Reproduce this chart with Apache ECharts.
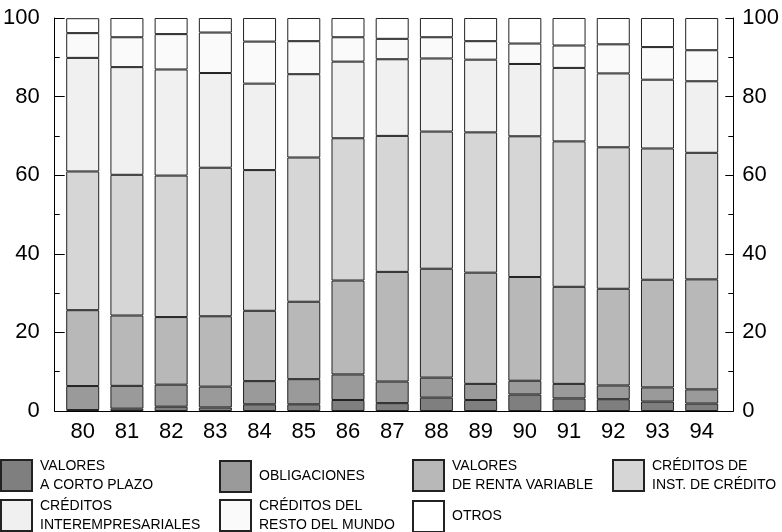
<!DOCTYPE html>
<html>
<head>
<meta charset="utf-8">
<script src="https://cdn.jsdelivr.net/npm/echarts@6/dist/echarts.min.js"></script>
<style>html,body{margin:0;padding:0;background:#fff;}#c{width:782px;height:532px;}</style>
</head>
<body>
<div id="c"></div>
<script>
var categories = ['80','81','82','83','84','85','86','87','88','89','90','91','92','93','94'];
var yTicks = [0, 20, 40, 60, 80, 100];
var valoresCortoPlazo = [0.25, 0.6, 1.1, 0.9, 1.7, 1.7, 2.8, 2.0, 3.4, 2.8, 4.2, 3.2, 3.0, 2.4, 1.9];
var obligaciones = [6.1, 5.8, 5.6, 5.3, 5.9, 6.4, 6.5, 5.5, 5.1, 4.1, 3.5, 3.7, 3.5, 3.6, 3.6];
var valoresRentaVariable = [19.3, 17.9, 17.2, 17.9, 17.9, 19.7, 23.9, 27.9, 27.7, 28.3, 26.4, 24.7, 24.6, 27.4, 28.0];
var creditosInstCredito = [35.3, 35.8, 36.0, 37.8, 35.8, 36.7, 36.2, 34.6, 34.9, 35.7, 35.8, 37.0, 36.0, 33.4, 32.2];
var creditosInterempresariales = [28.9, 27.4, 27.0, 24.1, 22.0, 21.2, 19.5, 19.5, 18.6, 18.5, 18.4, 18.7, 18.8, 17.5, 18.2];
var creditosRestoMundo = [6.3, 7.6, 9.0, 10.3, 10.7, 8.4, 6.2, 5.2, 5.4, 4.7, 5.2, 5.7, 7.4, 8.3, 7.9];
var otros = [3.8, 4.9, 4.1, 3.7, 6.0, 5.9, 4.9, 5.3, 4.9, 5.9, 6.5, 7.0, 6.7, 7.4, 8.2];

var seriesNames = [
  'VALORES\nA CORTO PLAZO',
  'OBLIGACIONES',
  'VALORES\nDE RENTA VARIABLE',
  'CRÉDITOS DE\nINST. DE CRÉDITO',
  'CRÉDITOS\nINTEREMPRESARIALES',
  'CRÉDITOS DEL\nRESTO DEL MUNDO',
  'OTROS'
];
var seriesData = [valoresCortoPlazo, obligaciones, valoresRentaVariable, creditosInstCredito, creditosInterempresariales, creditosRestoMundo, otros];
var colors = ['#7f7f7f', '#9a9a9a', '#b8b8b8', '#d6d6d6', '#f0f0f0', '#fafafa', '#ffffff'];
var legendPos = [[0,460],[219,460],[412,460],[612,460],[0,500],[219,500],[412,500]];

var font = '"Liberation Sans", Arial, Helvetica, sans-serif';
var chart = echarts.init(document.getElementById('c'), null, {renderer: 'canvas'});

var series = seriesNames.map(function (n, i) {
  return {
    name: n, type: 'bar', stack: 'total', xAxisIndex: 1, yAxisIndex: 2,
    barWidth: 33, data: seriesData[i],
    itemStyle: {color: colors[i], borderColor: '#222', borderWidth: 1},
    emphasis: {disabled: true}, animation: false
  };
});

var legends = seriesNames.map(function (n, i) {
  var twoLine = n.indexOf('\n') >= 0;
  return {
    data: [n], left: legendPos[i][0], top: legendPos[i][1] - (twoLine ? 5.5 : 0), padding: 0,
    itemWidth: 31, itemHeight: 31, icon: 'rect', selectedMode: false,
    textStyle: {fontFamily: font, fontSize: 14, lineHeight: 19.5, color: '#000',
      padding: twoLine ? [3, 0, 0, 3] : [0, 0, 0, 3]}
  };
});

var yAxisCommon = {
  type: 'value', min: 0, max: 100, interval: 20, gridIndex: 0,
  axisLine: {show: true, lineStyle: {color: '#000', width: 1}},
  splitLine: {show: false},
  minorTick: {show: true, splitNumber: 2, length: 5, lineStyle: {color: '#000'}},
  minorSplitLine: {show: false},
  axisLabel: {fontFamily: font, fontSize: 22, color: '#000',
    formatter: function (v) { return yTicks.indexOf(v) >= 0 ? String(v) : ''; }}
};

chart.setOption({
  animation: false,
  backgroundColor: '#fff',
  grid: [
    {left: 51, right: 48, top: 18, bottom: 121},
    {left: 60.6, right: 58.2, top: 18, bottom: 121}
  ],
  legend: legends,
  xAxis: [
    {type: 'category', gridIndex: 0, data: categories, boundaryGap: true,
      axisLine: {show: true, lineStyle: {color: '#000'}}, axisTick: {show: false}, axisLabel: {show: false}},
    {type: 'category', gridIndex: 1, data: categories,
      axisLine: {show: false}, axisTick: {show: false},
      axisLabel: {fontFamily: font, fontSize: 22, color: '#000', margin: 10}}
  ],
  yAxis: [
    Object.assign({}, yAxisCommon, {position: 'left',
      axisTick: {show: true, inside: true, length: 10, lineStyle: {color: '#000'}},
      axisLabel: Object.assign({}, yAxisCommon.axisLabel, {margin: 15})}),
    Object.assign({}, yAxisCommon, {position: 'right',
      axisTick: {show: true, inside: true, length: 8, lineStyle: {color: '#000'}},
      axisLabel: Object.assign({}, yAxisCommon.axisLabel, {margin: 9})}),
    {type: 'value', gridIndex: 1, min: 0, max: 100, interval: 20, show: false, splitLine: {show: false}}
  ],
  series: series
});
</script>
</body>
</html>
